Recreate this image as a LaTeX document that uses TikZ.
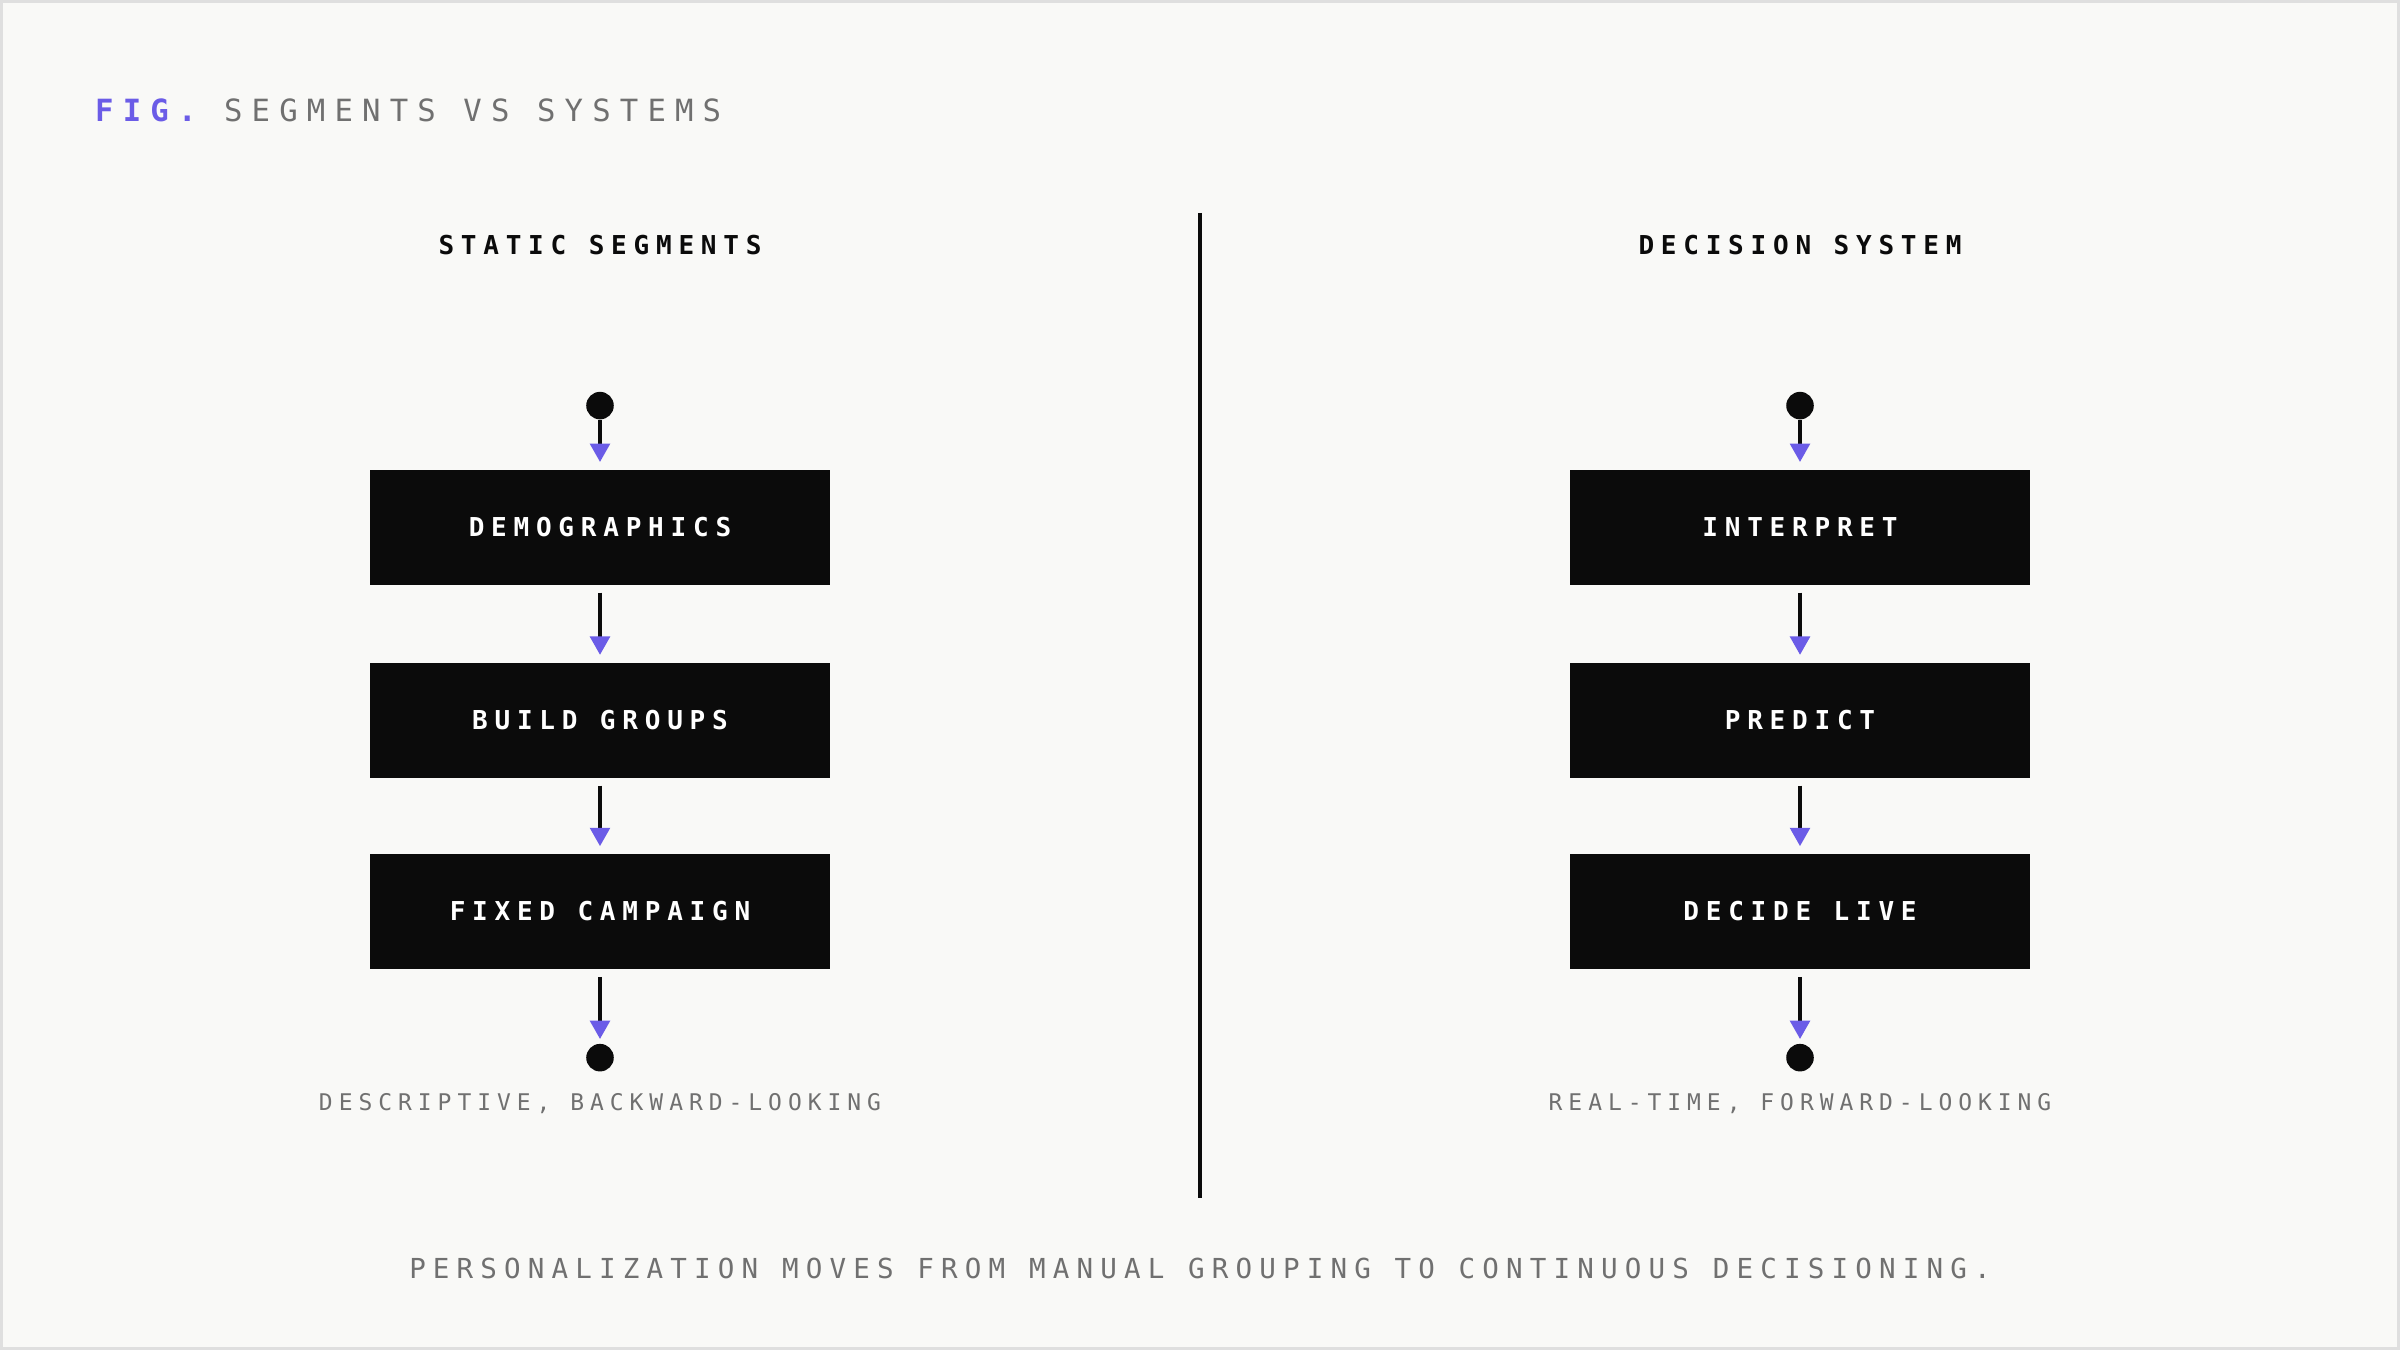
\documentclass[tikz,border=0pt]{standalone}
\usepackage{fontspec}
\usetikzlibrary{arrows.meta}
\newfontfamily\monoA[LetterSpace=30]{DejaVu Sans Mono}
\newfontfamily\monoB[LetterSpace=26]{DejaVu Sans Mono}
\definecolor{bg}{HTML}{F9F9F7}
\definecolor{pur}{HTML}{6B5CE7}
\definecolor{gr}{HTML}{707070}
\definecolor{boxc}{HTML}{0B0B0B}
\begin{document}
\begin{tikzpicture}[x=1pt,y=-1pt,
  stepbox/.style={fill=boxc,minimum width=300pt,minimum height=75pt,inner sep=0pt,text=white,font=\monoB\bfseries\fontsize{17}{17}\selectfont},
  dotn/.style={circle,fill=boxc,minimum size=18pt,inner sep=0pt},
  arr/.style={draw=boxc,line width=2pt,-{Triangle[length=12pt,width=13pt,color=pur]}},
  head/.style={font=\monoB\bfseries\fontsize{17}{17}\selectfont,text=boxc},
  note/.style={font=\monoB\fontsize{15}{15}\selectfont,text=gr}]
\fill[gray!25] (0,0) rectangle (1568,882);
\fill[bg] (2,2) rectangle (1566,880);
\useasboundingbox (0,0) rectangle (1568,882);
\node[anchor=west,inner sep=0pt,font=\monoA\fontsize{20}{20}\selectfont] (title) at (62,72) {\textcolor{pur}{\bfseries FIG.} \textcolor{gr}{SEGMENTS VS SYSTEMS}};
\coordinate (dt) at (784,139); \coordinate (db) at (784,783);
\draw[line width=3pt,boxc] (dt) -- (db);
\foreach \px/\hd/\a/\b/\c/\nt/\k in {392/STATIC SEGMENTS/DEMOGRAPHICS/BUILD GROUPS/FIXED CAMPAIGN/{DESCRIPTIVE, BACKWARD-LOOKING}/L, 1176/DECISION SYSTEM/INTERPRET/PREDICT/DECIDE LIVE/{REAL-TIME, FORWARD-LOOKING}/R}{
  \node[head] (h\k) at (\px,160) {\hd};
  \node[dotn] (s\k) at (\px,265) {};
  \node[stepbox] (a\k) at (\px,344.5) {\a};
  \node[stepbox] (b\k) at (\px,470.5) {\b};
  \node[stepbox] (c\k) at (\px,595.5) {\c};
  \node[dotn] (e\k) at (\px,691) {};
  \node[note] (n\k) at (\px,721) {\nt};
  \draw[arr,shorten >=5pt] (s\k) -- (a\k);
  \draw[arr,shorten <=5pt,shorten >=5pt] (a\k) -- (b\k);
  \draw[arr,shorten <=5pt,shorten >=5pt] (b\k) -- (c\k);
  \draw[arr,shorten <=5pt,shorten >=3pt] (c\k) -- (e\k);
}
\node[font=\monoB\fontsize{18}{18}\selectfont,text=gr] (foot) at (784,829) {PERSONALIZATION MOVES FROM MANUAL GROUPING TO CONTINUOUS DECISIONING.};
\end{tikzpicture}
\end{document}
